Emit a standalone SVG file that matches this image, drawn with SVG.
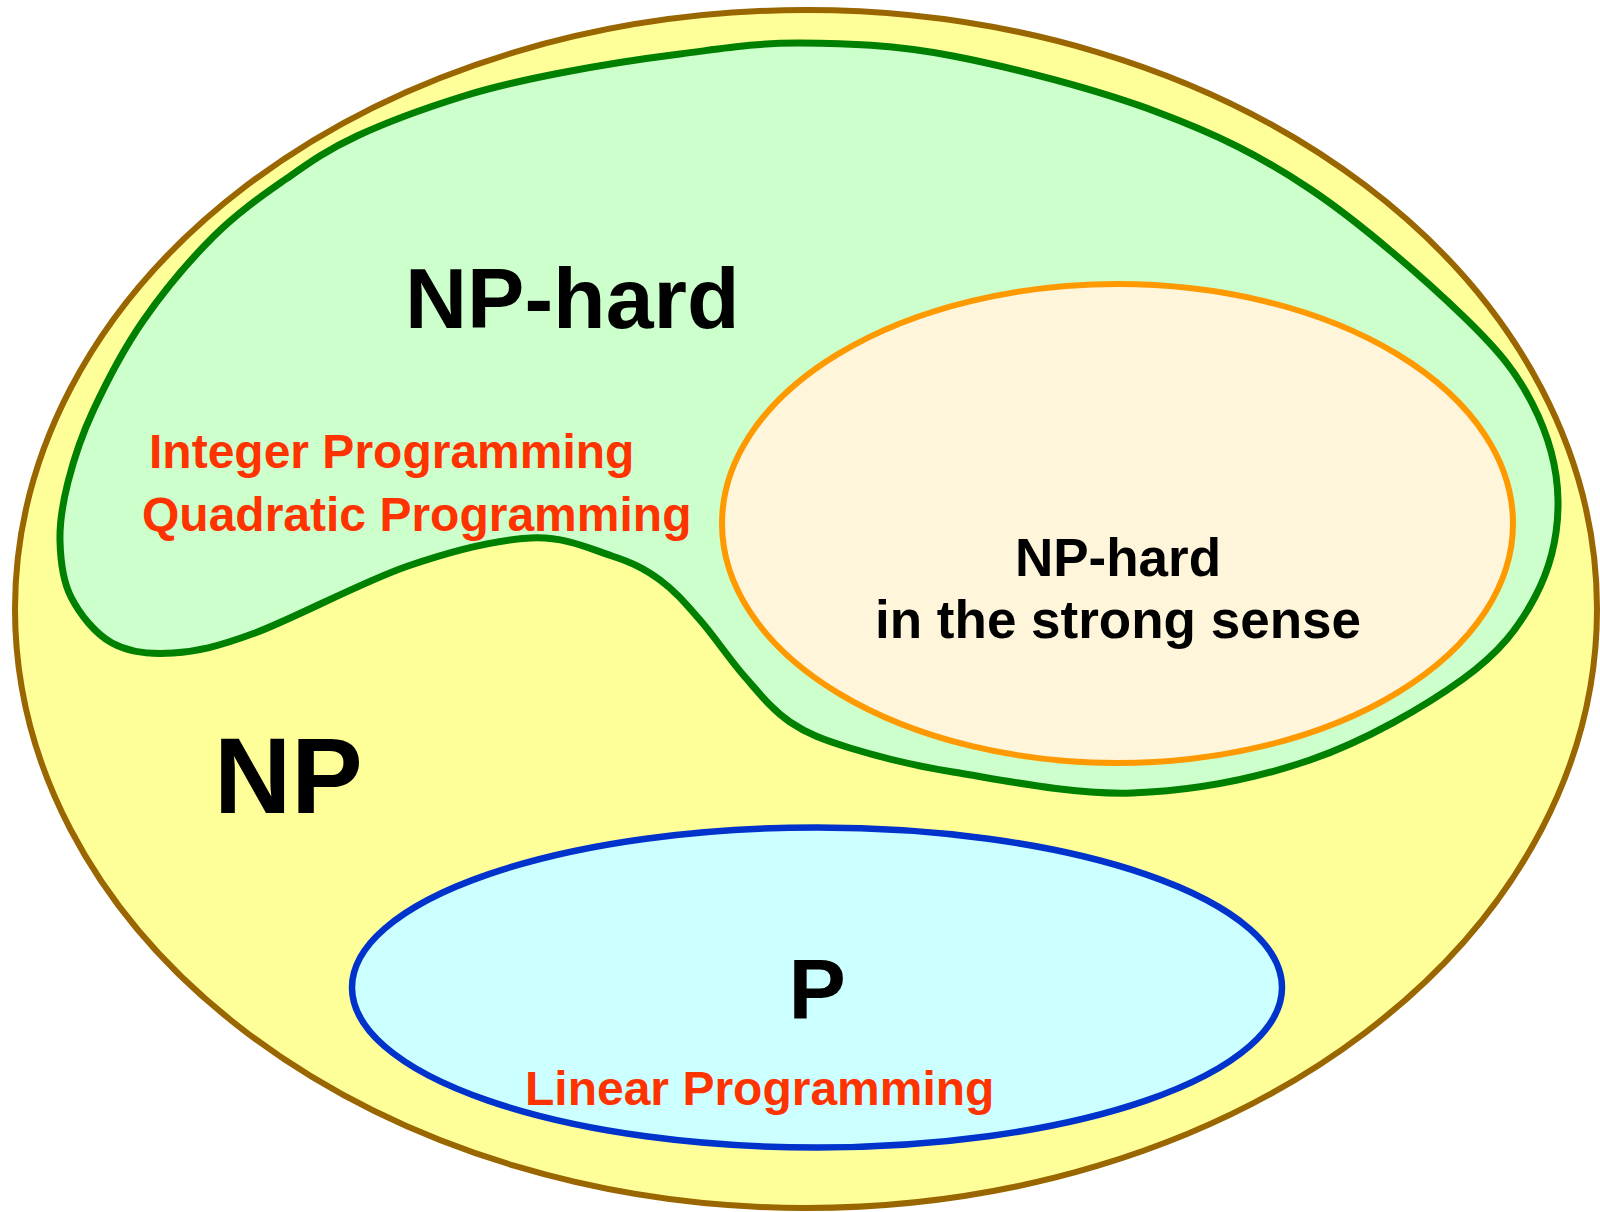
<svg xmlns="http://www.w3.org/2000/svg" width="1600" height="1212" viewBox="0 0 1600 1212">
<style>
text { font-family: "Liberation Sans", Arial, sans-serif; font-weight: bold; }
.blk { fill: #000000; }
.red { fill: #FF3300; font-size: 48px; }
</style>
<rect x="0" y="0" width="1600" height="1212" fill="#FFFFFF"/>
<g id="np">
  <ellipse cx="806" cy="609" rx="791" ry="599" fill="#FFFF99" stroke="#996600" stroke-width="6"/>
  <text class="blk" x="214" y="813" font-size="107">NP</text>
</g>
<g id="np-hard">
  <path d="M800,43 C845.5,43.3 893.5,44.5 953,56 C1012.5,67.5 1097.5,89.8 1157,112 C1216.5,134.2 1259,155 1310,189 C1361,223 1426,280.3 1463,316 C1500,351.7 1516.2,372.3 1532,403 C1547.8,433.7 1557.5,467.7 1558,500 C1558.5,532.3 1550.8,567.2 1535,597 C1519.2,626.8 1500.5,651.8 1463,679 C1425.5,706.2 1365.2,741 1310,760 C1254.8,779 1191.5,791 1132,793 C1072.5,795 1000,779.5 953,772 C906,764.5 877.2,756.3 850,748 C822.8,739.7 807.5,733.8 790,722 C772.5,710.2 760,694 745,677 C730,660 714.2,636.2 700,620 C685.8,603.8 674.7,590.7 660,580 C645.3,569.3 633.5,563 612,556 C590.5,549 565,536.3 531,538 C497,539.7 454,550.2 408,566 C362,581.8 294.2,618.5 255,633 C215.8,647.5 196.8,651.3 173,653 C149.2,654.7 129,652.3 112,643 C95,633.7 79.7,614 71,597 C62.3,580 60.5,560.2 60,541 C59.5,521.8 62.5,503.7 68,482 C73.5,460.3 80.5,437.8 93,411 C105.5,384.2 122.8,350.2 143,321 C163.2,291.8 190.2,259.7 214,236 C237.8,212.3 262.2,195.7 286,179 C309.8,162.3 327.3,149.8 357,136 C386.7,122.2 430.2,106.5 464,96 C497.8,85.5 524,80 560,73 C596,66 640,59 680,54 C720,49 754.5,42.7 800,43 Z" fill="#CCFFCC" stroke="#008000" stroke-width="7"/>
  <text class="blk" x="405" y="328" font-size="86">NP-hard</text>
  <text class="red" x="149" y="468">Integer Programming</text>
  <text class="red" x="142" y="531">Quadratic Programming</text>
</g>
<g id="strong">
  <ellipse cx="1117.5" cy="523.5" rx="395.5" ry="239.5" fill="#FFF5DA" stroke="#FF9900" stroke-width="6"/>
  <text class="blk" x="1118" y="576" font-size="53" text-anchor="middle">NP-hard</text>
  <text class="blk" x="1118" y="638" font-size="53" text-anchor="middle">in the strong sense</text>
</g>
<g id="p">
  <ellipse cx="817" cy="987.5" rx="465" ry="160" fill="#CCFFFF" stroke="#0033CC" stroke-width="6.5"/>
  <text class="blk" x="788.5" y="1019" font-size="86">P</text>
  <text class="red" x="525" y="1105">Linear Programming</text>
</g>
<g id="connectors"></g>
</svg>
